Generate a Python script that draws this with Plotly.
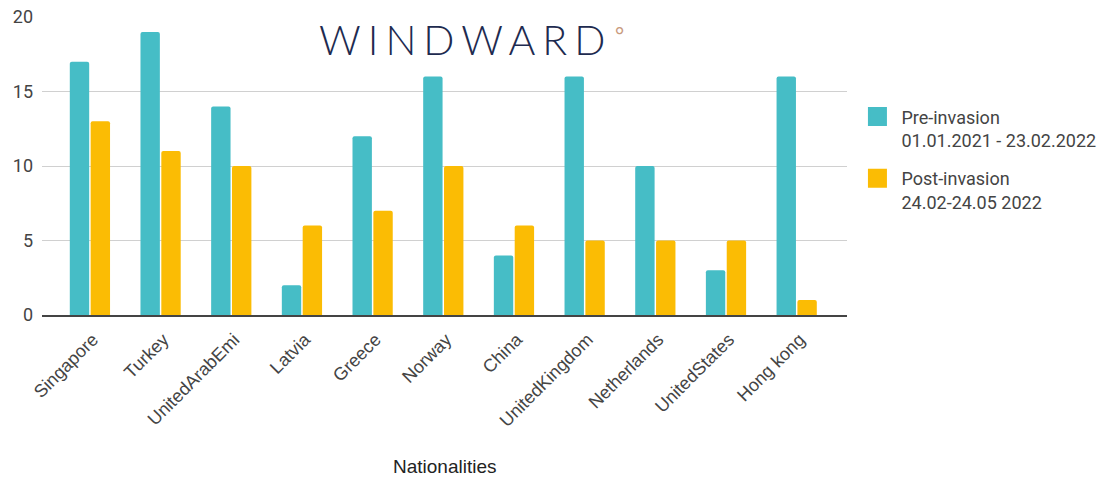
import plotly.graph_objects as go

categories = ["Singapore", "Turkey", "UnitedArabEmi", "Latvia", "Greece", "Norway",
              "China", "UnitedKingdom", "Netherlands", "UnitedStates", "Hong kong"]
pre_invasion = [17, 19, 14, 2, 12, 16, 4, 16, 10, 3, 16]
post_invasion = [13, 11, 10, 6, 7, 10, 6, 5, 5, 5, 1]
y_ticks = [0, 5, 10, 15, 20]
series_names = ["Pre-invasion<br>01.01.2021 - 23.02.2022", "Post-invasion<br>24.02-24.05 2022"]
colors = ["#46bdc6", "#fbbc04"]

ROBOTO = "Roboto, Arial, sans-serif"
ARIAL = "Liberation Sans, Arial, sans-serif"

fig = go.Figure()
for vals, name, col in zip([pre_invasion, post_invasion], series_names, colors):
    fig.add_trace(go.Bar(x=categories, y=vals, name=name, showlegend=False,
                         marker=dict(color=col, line=dict(width=0))))
# legend entries with square swatches
for i, (name, col) in enumerate(zip(series_names, colors)):
    fig.add_trace(go.Scatter(x=[None], y=[None], mode="markers", name=name,
                             legendgroup=f"g{i}",
                             marker=dict(symbol="square", size=16, color=col,
                                         line=dict(color=col, width=3))))

fig.update_layout(
    width=1118, height=478,
    margin=dict(l=42, r=271, t=17, b=163, autoexpand=False),
    paper_bgcolor="white", plot_bgcolor="white",
    barmode="group", bargap=0.41, bargroupgap=0.07, barcornerradius=2,
    font=dict(family=ROBOTO, size=15, color="#444"),
    showlegend=True,
    legend=dict(x=1.008, y=0.727, xanchor="left", yanchor="top", valign="top",
                font=dict(family=ROBOTO, size=18, color="#444"), tracegroupgap=12,
                itemsizing="trace", itemwidth=38),
    xaxis=dict(range=[-0.678, 10.712], tickangle=-45, showgrid=False, automargin=False,
               showline=True, linecolor="#444", linewidth=2,
               ticks="", tickfont=dict(family=ARIAL, size=18, color="#444"),
               ticklabelshift=3, ticklabelstandoff=5),
    yaxis=dict(range=[0, 20], tickvals=y_ticks, showgrid=True, gridcolor="#d0d0d0",
               gridwidth=1, zeroline=False, ticks="", automargin=False,
               tickfont=dict(size=18, color="#444"), ticklabelstandoff=8),
)

fig.add_annotation(text="Nationalities", xref="paper", yref="paper",
                   x=0.5, y=-0.51, xanchor="center", yanchor="middle", showarrow=False,
                   font=dict(family=ARIAL, size=19, color="#222"))

fig.add_annotation(text='<span style="letter-spacing:7px">WINDWARD</span>', xref="paper", yref="paper",
                   x=0.526, y=0.925, xanchor="center", yanchor="middle", showarrow=False,
                   font=dict(family="Lato, Roboto, sans-serif", size=41, color="#1e2b50", weight=300))
fig.add_annotation(text="°", xref="paper", yref="paper",
                   x=0.718, y=0.94, xanchor="center", yanchor="middle", showarrow=False,
                   font=dict(family="Lato, sans-serif", size=22, color="#c99a7e"))

fig.write_html("out.html")
